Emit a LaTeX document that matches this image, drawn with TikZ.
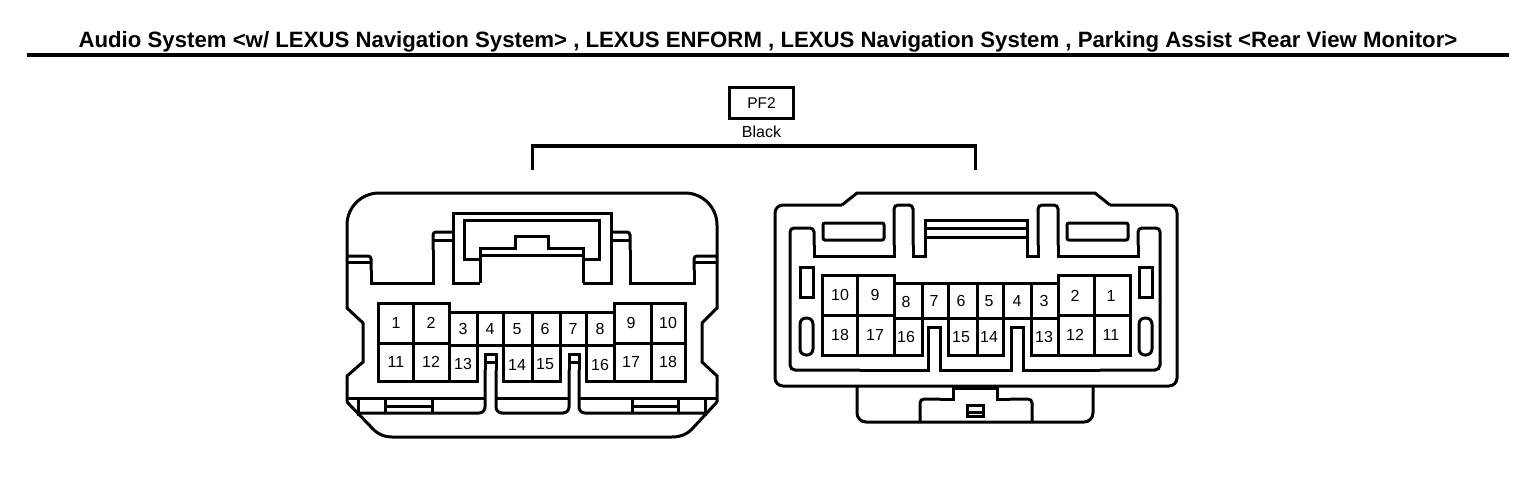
\documentclass[tikz,border=0pt]{standalone}
\usepackage{fontspec}
\setmainfont{Liberation Sans}

\begin{document}
\begin{tikzpicture}[x=1pt,y=1pt]
\tikzstyle{every node}+=[inner sep=0pt]
\tikzstyle{wall}=[black,line width=3pt,line join=miter]
\tikzstyle{rule}=[black,line width=3.4pt]
\tikzstyle{pinlabel}=[yshift=-1pt,font=\fontsize{16}{16}\selectfont]
\tikzstyle{tag}=[draw=black,line width=3pt,minimum width=64pt,minimum height=31pt,font=\fontsize{15.5}{16}\selectfont]
\useasboundingbox (0,0) rectangle (1536,-492);
% header
\node (title) at (768,-42) {\fontsize{22.2}{23}\selectfont\bfseries Audio System <w/ LEXUS Navigation System> , LEXUS ENFORM , LEXUS Navigation System , Parking Assist <Rear View Monitor>};
\coordinate (rulel) at (27,-55);
\coordinate (ruler) at (1509,-55);
\draw [rule] (rulel) -- (ruler);
\node [tag] (pf2) at (761.5,-103) {PF2};
\node [pinlabel] (black) at (761.5,-131) {Black};
\coordinate (brkl) at (532,-170);
\coordinate (brkr) at (975,-170);
\coordinate (brkm) at (753,-146);
\draw [wall] (brkl) |- (brkm) -| (brkr);
% left connector, housing
\draw [wall] (347,-402) -- (347,-376) -- (363,-362) -- (363,-323) -- (347,-308) -- (347,-225) arc (180:90:32) -- (685,-193) arc (90:0:32) -- (717,-308) -- (702,-323) -- (702,-362) -- (717,-376) -- (717,-402);
\draw [wall] (347,-402) -- (373,-429) .. controls (379,-435) and (385,-437) .. (392,-437) -- (672,-437) .. controls (680,-437) and (686,-435) .. (692,-429) -- (717,-402);
\draw [wall,rounded corners=3pt] (347,-256) -- (371,-256) -- (371,-270);
\draw [wall] (371,-270) -- (371,-283) -- (433,-283) -- (433,-250);
\draw [wall,rounded corners=3pt] (433,-250) -- (433,-232) -- (453,-232);
\draw [wall] (347,-262) -- (371,-262);
\draw [wall] (433,-240) -- (453,-240);
\draw [wall,rounded corners=3pt] (717,-256) -- (694,-256) -- (694,-270);
\draw [wall] (694,-270) -- (694,-283) -- (630,-283) -- (630,-250);
\draw [wall,rounded corners=3pt] (630,-250) -- (630,-232) -- (611,-232);
\draw [wall] (717,-262) -- (694,-262);
\draw [wall] (630,-240) -- (611,-240);
% left connector, latch
\draw [wall] (480,-283) -- (453,-283) -- (453,-213) -- (611,-213) -- (611,-283) -- (583,-283);
\draw [wall] (480,-283) -- (480,-248) -- (515,-248) -- (515,-236) -- (548,-236) -- (548,-248) -- (583,-248) -- (583,-283);
\draw [wall] (480,-259) -- (464,-259) -- (464,-220) -- (599,-220) -- (599,-259) -- (583,-259);
\draw [wall] (480,-255) -- (583,-255);
% left connector, lower wall
\draw [wall] (347,-398) -- (485,-398);
\draw [wall] (496,-398) -- (569,-398);
\draw [wall] (579,-398) -- (717,-398);
\draw [wall,rounded corners=6pt] (358,-413) -- (485,-413) -- (485,-370);
\draw [wall] (485,-370) -- (485,-354) -- (496,-354) -- (496,-370);
\draw [wall,rounded corners=6pt] (496,-370) -- (496,-413) -- (569,-413) -- (569,-370);
\draw [wall] (569,-370) -- (569,-354) -- (579,-354) -- (579,-370);
\draw [wall,rounded corners=6pt] (579,-370) -- (579,-413) -- (705,-413);
\draw [wall] (485,-362) -- (496,-362);
\draw [wall] (569,-362) -- (579,-362);
\draw [wall] (358,-398) -- (358,-416);
\draw [wall] (705,-398) -- (705,-416);
\draw [wall] (385,-398) -- (385,-413);
\draw [wall] (432,-398) -- (432,-413);
\draw [wall] (385,-406) -- (432,-406);
\draw [wall] (632,-398) -- (632,-413);
\draw [wall] (678,-398) -- (678,-413);
\draw [wall] (632,-406) -- (678,-406);
% left connector, cavities
\draw [wall] (449,-312) -- (449,-303) -- (378,-303) -- (378,-381) -- (477,-381) -- (477,-345);
\draw [wall] (413,-303) -- (413,-381);
\draw [wall] (449,-312) -- (449,-381);
\draw [wall] (378,-343) -- (449,-343);
\draw [wall] (449,-312) -- (614,-312);
\draw [wall] (449,-345) -- (614,-345);
\draw [wall] (477,-312) -- (477,-345);
\draw [wall] (503,-312) -- (503,-381) -- (560,-381) -- (560,-312);
\draw [wall] (532,-312) -- (532,-381);
\draw [wall] (586,-312) -- (586,-381) -- (685,-381) -- (685,-303) -- (614,-303) -- (614,-381);
\draw [wall] (651,-303) -- (651,-381);
\draw [wall] (614,-343) -- (685,-343);
\node [pinlabel] (la1) at (396,-322) {1};
\node [pinlabel] (la2) at (431,-322) {2};
\node [pinlabel] (la3) at (463,-328) {3};
\node [pinlabel] (la4) at (490,-328) {4};
\node [pinlabel] (la5) at (517,-328) {5};
\node [pinlabel] (la6) at (545,-328) {6};
\node [pinlabel] (la7) at (573,-328) {7};
\node [pinlabel] (la8) at (600,-328) {8};
\node [pinlabel] (la9) at (631,-322) {9};
\node [pinlabel] (la10) at (668,-322) {10};
\node [pinlabel] (la11) at (396,-361) {11};
\node [pinlabel] (la12) at (431,-361) {12};
\node [pinlabel] (la13) at (463,-363) {13};
\node [pinlabel] (la14) at (517,-364) {14};
\node [pinlabel] (la15) at (545,-363) {15};
\node [pinlabel] (la16) at (600,-364) {16};
\node [pinlabel] (la17) at (631,-361) {17};
\node [pinlabel] (la18) at (668,-361) {18};
% right connector, housing
\draw [wall,rounded corners=8pt] (857,-386) -- (775,-386) -- (775,-205) -- (842,-205);
\draw [wall] (842,-205) -- (857,-193) -- (1095,-193) -- (1110,-205);
\draw [wall,rounded corners=8pt] (1110,-205) -- (1177,-205) -- (1177,-386) -- (857,-386);
\draw [wall,rounded corners=9pt] (857,-386) -- (857,-422) -- (1093,-422) -- (1093,-386);
\draw [wall,rounded corners=4pt] (790,-300) -- (790,-228) -- (814,-228) -- (814,-245);
\draw [wall] (814,-245) -- (814,-256) -- (894,-256) -- (894,-245);
\draw [wall,rounded corners=4pt] (894,-245) -- (894,-205) -- (913,-205) -- (913,-245);
\draw [wall] (913,-245) -- (913,-256) -- (925,-256) -- (925,-220) -- (1027,-220) -- (1027,-256) -- (1038,-256) -- (1038,-245);
\draw [wall,rounded corners=4pt] (1038,-245) -- (1038,-205) -- (1058,-205) -- (1058,-245);
\draw [wall] (1058,-245) -- (1058,-256) -- (1138,-256) -- (1138,-245);
\draw [wall,rounded corners=4pt] (1138,-245) -- (1138,-228) -- (1160,-228) -- (1160,-300);
\draw [wall,rounded corners=5pt] (790,-300) -- (790,-370) -- (860,-370);
\draw [wall] (860,-370) -- (928,-370) -- (928,-327) -- (940,-327) -- (940,-370) -- (1011,-370) -- (1011,-327) -- (1023,-327) -- (1023,-370) -- (1100,-370);
\draw [wall,rounded corners=5pt] (1100,-370) -- (1160,-370) -- (1160,-300);
\draw [wall] (925,-228) -- (1027,-228);
\draw [wall] (925,-237) -- (1027,-237);
\draw [wall,rounded corners=2pt] (823,-223) rectangle (884,-240);
\draw [wall,rounded corners=2pt] (1067,-223) rectangle (1128,-240);
\draw [wall] (800,-267) rectangle (813,-297);
\draw [wall] (1139,-267) rectangle (1152,-297);
\draw [wall,rounded corners=6pt] (800,-318) rectangle (813,-355);
\draw [wall,rounded corners=6pt] (1139,-318) rectangle (1152,-355);
% right connector, lock
\draw [wall,rounded corners=4pt] (920,-422) -- (920,-399) -- (940,-399);
\draw [wall] (940,-399) -- (953,-399) -- (953,-388) -- (997,-388) -- (997,-399) -- (1010,-399);
\draw [wall,rounded corners=4pt] (1010,-399) -- (1032,-399) -- (1032,-422);
\draw [wall] (967,-405) rectangle (983,-416);
\draw [wall] (967,-412) -- (983,-412);
% right connector, cavities
\draw [wall] (894,-283) -- (894,-275) -- (822,-275) -- (822,-355) -- (922,-355) -- (922,-283);
\draw [wall] (857,-275) -- (857,-355);
\draw [wall] (894,-283) -- (894,-355);
\draw [wall] (822,-315) -- (894,-315);
\draw [wall] (894,-283) -- (1058,-283);
\draw [wall] (894,-318) -- (1058,-318);
\draw [wall] (948,-283) -- (948,-355) -- (1003,-355) -- (1003,-283);
\draw [wall] (977,-283) -- (977,-355);
\draw [wall] (1031,-283) -- (1031,-355) -- (1130,-355) -- (1130,-275) -- (1058,-275) -- (1058,-355);
\draw [wall] (1094,-275) -- (1094,-355);
\draw [wall] (1058,-315) -- (1130,-315);
\node [pinlabel] (rb10) at (840,-294) {10};
\node [pinlabel] (rb9) at (875,-294) {9};
\node [pinlabel] (rb8) at (906,-301) {8};
\node [pinlabel] (rb7) at (934,-300) {7};
\node [pinlabel] (rb6) at (961,-300) {6};
\node [pinlabel] (rb5) at (989,-300) {5};
\node [pinlabel] (rb4) at (1017,-300) {4};
\node [pinlabel] (rb3) at (1044,-300) {3};
\node [pinlabel] (rb2) at (1075,-295) {2};
\node [pinlabel] (rb1) at (1111,-295) {1};
\node [pinlabel] (rb18) at (840,-334) {18};
\node [pinlabel] (rb17) at (875,-334) {17};
\node [pinlabel] (rb16) at (906,-336) {16};
\node [pinlabel] (rb15) at (961,-336) {15};
\node [pinlabel] (rb14) at (989,-336) {14};
\node [pinlabel] (rb13) at (1044,-336) {13};
\node [pinlabel] (rb12) at (1075,-334) {12};
\node [pinlabel] (rb11) at (1111,-334) {11};
\end{tikzpicture}
\end{document}
